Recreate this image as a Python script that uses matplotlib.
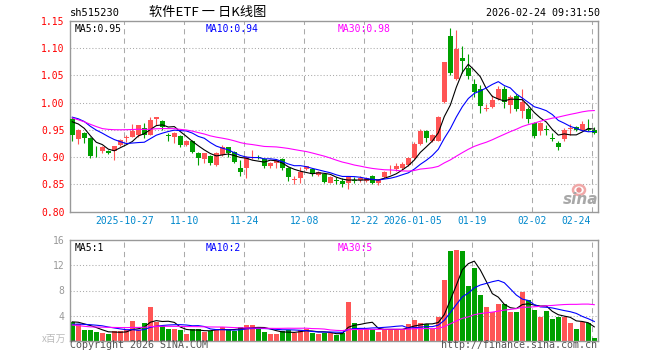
import numpy as np
import pandas as pd
import matplotlib
matplotlib.use('Agg')
import matplotlib.pyplot as plt
from matplotlib.patches import Ellipse
from matplotlib.transforms import blended_transform_factory

plt.rcParams['font.family'] = ['DejaVu Sans Mono']
CJK = ['Noto Sans CJK SC', 'DejaVu Sans']

# date ticks (index of candle, label)
tick_idx = [9, 19, 29, 39, 49, 57, 67, 77, 87]
tick_labels = ['2025-10-27', '11-10', '11-24', '12-08', '12-22',
               '2026-01-05', '01-19', '02-02', '02-24']

# closes / volumes before the first visible day (only feed the moving averages)
prev_close = [1.05, 1.045, 1.04, 1.035, 1.03,
              0.95, 0.94, 0.935, 0.93, 0.94, 0.945, 0.95, 0.955, 0.95, 0.945, 0.94, 0.95,
              0.96, 0.965, 0.97, 0.98, 0.985, 0.99, 0.98, 0.975, 0.97, 0.975, 0.97, 0.97]
prev_vol = [5.5, 5.0, 4.5] + [2.0] * 17 + [2.2] * 5 + [3.0] * 4

opens = [0.970, 0.933, 0.945, 0.935, 0.910, 0.912, 0.911, 0.912, 0.922, 0.935,
         0.938, 0.941, 0.953, 0.941, 0.970, 0.967, 0.940, 0.938, 0.939, 0.922,
         0.930, 0.908, 0.896, 0.902, 0.886, 0.904, 0.918, 0.909, 0.880, 0.880,
         0.900, 0.900, 0.896, 0.883, 0.890, 0.896, 0.881, 0.859, 0.861, 0.878,
         0.878, 0.867, 0.870, 0.853, 0.858, 0.856, 0.852, 0.859, 0.858, 0.856,
         0.865, 0.853, 0.864, 0.878, 0.878, 0.880, 0.886, 0.898, 0.925, 0.949,
         0.930, 0.930, 1.002, 1.122, 1.043, 1.083, 1.063, 1.034, 1.025, 0.989,
         0.992, 1.006, 1.026, 0.996, 1.012, 0.984, 0.988, 0.962, 0.949, 0.951,
         0.935, 0.926, 0.933, 0.952, 0.956, 0.950, 0.951, 0.950]
highs = [0.974, 0.951, 0.946, 0.938, 0.920, 0.921, 0.914, 0.921, 0.934, 0.940,
         0.961, 0.960, 0.962, 0.973, 0.974, 0.968, 0.945, 0.946, 0.941, 0.932,
         0.932, 0.909, 0.908, 0.904, 0.910, 0.922, 0.919, 0.912, 0.895, 0.902,
         0.913, 0.904, 0.898, 0.892, 0.896, 0.898, 0.882, 0.865, 0.882, 0.884,
         0.880, 0.874, 0.871, 0.866, 0.864, 0.861, 0.865, 0.864, 0.866, 0.863,
         0.868, 0.860, 0.874, 0.885, 0.889, 0.892, 0.901, 0.928, 0.952, 0.950,
         0.943, 0.975, 1.075, 1.138, 1.134, 1.104, 1.090, 1.043, 1.032, 0.998,
         1.014, 1.031, 1.031, 1.014, 1.016, 1.026, 0.992, 0.965, 0.965, 0.959,
         0.944, 0.929, 0.953, 0.961, 0.957, 0.967, 0.970, 0.955]
lows = [0.930, 0.925, 0.927, 0.899, 0.900, 0.907, 0.906, 0.895, 0.920, 0.928,
        0.937, 0.938, 0.936, 0.940, 0.959, 0.950, 0.929, 0.927, 0.919, 0.920,
        0.908, 0.886, 0.890, 0.886, 0.884, 0.903, 0.901, 0.890, 0.865, 0.861,
        0.897, 0.896, 0.880, 0.880, 0.881, 0.877, 0.857, 0.851, 0.853, 0.876,
        0.866, 0.865, 0.852, 0.852, 0.850, 0.846, 0.841, 0.853, 0.855, 0.854,
        0.851, 0.849, 0.862, 0.870, 0.874, 0.877, 0.883, 0.896, 0.922, 0.928,
        0.928, 0.929, 0.999, 1.051, 1.042, 1.054, 1.043, 1.010, 0.982, 0.984,
        0.990, 1.005, 0.990, 0.981, 0.984, 0.972, 0.963, 0.935, 0.941, 0.941,
        0.929, 0.913, 0.929, 0.941, 0.949, 0.949, 0.948, 0.943]
closes = [0.940, 0.950, 0.935, 0.903, 0.909, 0.919, 0.908, 0.920, 0.931, 0.936,
          0.949, 0.959, 0.941, 0.968, 0.973, 0.956, 0.939, 0.945, 0.922, 0.930,
          0.910, 0.898, 0.907, 0.889, 0.908, 0.919, 0.907, 0.892, 0.872, 0.901,
          0.901, 0.898, 0.883, 0.890, 0.895, 0.881, 0.863, 0.860, 0.873, 0.883,
          0.869, 0.872, 0.855, 0.864, 0.857, 0.851, 0.863, 0.857, 0.861, 0.861,
          0.853, 0.859, 0.873, 0.879, 0.884, 0.888, 0.898, 0.925, 0.949, 0.935,
          0.941, 0.974, 1.074, 1.054, 1.099, 1.077, 1.049, 1.020, 0.994, 0.990,
          1.005, 1.025, 1.002, 1.011, 0.988, 1.002, 0.970, 0.939, 0.962, 0.950,
          0.934, 0.918, 0.950, 0.953, 0.950, 0.961, 0.950, 0.944]
volumes = [3.0, 2.7, 1.7, 1.7, 1.4, 1.2, 1.1, 1.5, 1.5, 1.7,
           3.1, 1.7, 2.8, 5.4, 3.0, 2.4, 1.9, 1.9, 1.7, 1.1,
           1.9, 1.9, 1.4, 1.6, 1.9, 2.2, 1.7, 1.5, 2.2, 2.5,
           2.5, 1.9, 1.4, 1.1, 1.1, 1.5, 1.7, 1.2, 1.7, 1.9,
           1.2, 1.1, 1.2, 1.2, 0.9, 1.2, 6.2, 2.8, 1.9, 1.9,
           1.9, 1.4, 1.9, 1.9, 1.9, 1.9, 2.7, 3.3, 2.8, 2.7,
           1.9, 3.8, 9.6, 14.3, 14.5, 14.3, 8.7, 11.6, 7.3, 5.3,
           4.6, 5.9, 5.9, 4.6, 4.6, 7.8, 6.5, 4.9, 3.8, 4.7,
           3.5, 3.8, 3.8, 2.8, 1.9, 3.0, 2.8, 0.5]

RED = '#ff5555'
GREEN = '#00a000'
GRID = '#aaaaaa'

o = np.array(opens)
h = np.array(highs)
l = np.array(lows)
c = np.array(closes)
v = np.array(volumes)
x = np.arange(len(c))
colors = [RED if cc >= oo else GREEN for oo, cc in zip(o, c)]

all_c = pd.Series(prev_close + closes)
all_v = pd.Series(prev_vol + volumes)
n0 = len(prev_close)
ma_c = {n: all_c.rolling(n).mean().values[n0:] for n in (5, 10, 30)}
ma_v = {n: all_v.rolling(n).mean().values[n0:] for n in (5, 10, 30)}
ma_col = {5: 'black', 10: '#0000ff', 30: '#ff00ff'}

W, H = 660, 360
fig = plt.figure(figsize=(W / 100, H / 100), dpi=100)
L, R = 70.3, 597.7
ax1 = fig.add_axes([L / W, 1 - 211.7 / H, (R - L) / W, (211.7 - 21.0) / H])
ax2 = fig.add_axes([L / W, 1 - 340.7 / H, (R - L) / W, (340.7 - 240.3) / H])

xlim = (-1 / 3, len(c) - 1 + (R - L - 6 * (len(c) - 1) - 2) / 6)
for ax in (ax1, ax2):
    ax.set_xlim(*xlim)
    for s in ax.spines.values():
        s.set_color('#999999')
        s.set_linewidth(1.0)
    ax.set_xticks([])
    ax.tick_params(axis='y', length=0, pad=4)
    for t in tick_idx:
        ax.axvline(t - 1 / 3, color=GRID, lw=0.75, ls=(0, (5, 4)), zorder=0)

# price panel
ax1.set_ylim(0.80, 1.15)
yt = np.round(np.arange(0.80, 1.1501, 0.05), 2)
ax1.set_yticks(yt)
ax1.set_yticklabels(['%.2f' % t for t in yt], color='red', fontsize=7)
for y in yt[1:-1]:
    ax1.axhline(y, color=GRID, lw=0.75, ls=(0, (1, 2)), zorder=0)

body_bot = np.minimum(o, c)
body_h = np.maximum(np.abs(c - o), 0.0012)
ax1.vlines(x, l, h, colors=colors, lw=0.8, zorder=2)
ax1.bar(x, body_h, bottom=body_bot, width=0.75, color=colors, linewidth=0, zorder=3)
for n in (5, 10, 30):
    ax1.plot(x, ma_c[n], color=ma_col[n], lw=0.8, zorder=4)

ax1.text(0.008, 0.985, 'MA5:0.95', transform=ax1.transAxes, fontsize=7, va='top', color='black')
ax1.text(0.257, 0.985, 'MA10:0.94', transform=ax1.transAxes, fontsize=7, va='top', color='#0000ff')
ax1.text(0.506, 0.985, 'MA30:0.98', transform=ax1.transAxes, fontsize=7, va='top', color='#ff00ff')

# sina watermark
ax1.add_patch(Ellipse((579 / W, 1 - 190 / H), 12 / W, 10 / H, transform=fig.transFigure, fill=False,
                      ec='#f0a8a8', lw=1.8, zorder=5))
ax1.add_patch(Ellipse((579 / W, 1 - 190 / H), 4 / W, 4 / H, transform=fig.transFigure,
                      color='#e89090', zorder=5))
fig.text(581 / W, 1 - 199 / H, 'sina', fontsize=11, ha='center', va='center',
         color='#a8a8a8', fontweight='bold', style='italic', family='DejaVu Sans', zorder=6)

tr = blended_transform_factory(ax1.transData, ax1.transAxes)
for t, lab in zip(tick_idx, tick_labels):
    ha = 'right' if t == tick_idx[-1] else 'center'
    xx = t - 1 / 3 if t != tick_idx[-1] else t - 1 / 3 - 0.2
    ax1.text(xx, -9.0 / 190.7, lab, transform=tr, fontsize=7, ha=ha, va='center', color='#0088cc')

# volume panel
ax2.set_ylim(0, 16)
ax2.set_yticks([4, 8, 12, 16])
ax2.set_yticklabels(['4', '8', '12', '16'], color='#999999', fontsize=7)
for y in (4, 8, 12):
    ax2.axhline(y, color=GRID, lw=0.75, ls=(0, (1, 2)), zorder=0)
ax2.bar(x, v, width=0.8, color=colors, linewidth=0, zorder=2)
for n in (5, 10, 30):
    ax2.plot(x, ma_v[n], color=ma_col[n], lw=0.8, zorder=3)
ax2.text(0.008, 0.97, 'MA5:1', transform=ax2.transAxes, fontsize=7, va='top', color='black')
ax2.text(0.257, 0.97, 'MA10:2', transform=ax2.transAxes, fontsize=7, va='top', color='#0000ff')
ax2.text(0.506, 0.97, 'MA30:5', transform=ax2.transAxes, fontsize=7, va='top', color='#ff00ff')

# header and footer
fig.text(70 / W, 1 - 13 / H, 'sh515230', fontsize=7.5, va='center', ha='left')
fig.text(208 / W, 1 - 12.5 / H, '软件ETF 一 日K线图', fontsize=9.5, va='center', ha='center', family=CJK)
fig.text(600 / W, 1 - 13 / H, '2026-02-24 09:31:50', fontsize=7.2, va='center', ha='right')
fig.text(66 / W, 1 - 339 / H, 'x百万', fontsize=7, va='center', ha='right', color='#bbbbbb', family=CJK)
fig.text(70 / W, 1 - 345.5 / H, 'Copyright 2026 SINA.COM', fontsize=7.2, va='center', ha='left', color='#555555')
fig.text(597 / W, 1 - 345.5 / H, 'http://finance.sina.com.cn', fontsize=7.2, va='center', ha='right', color='#555555')

fig.savefig('out.png', dpi=100)
